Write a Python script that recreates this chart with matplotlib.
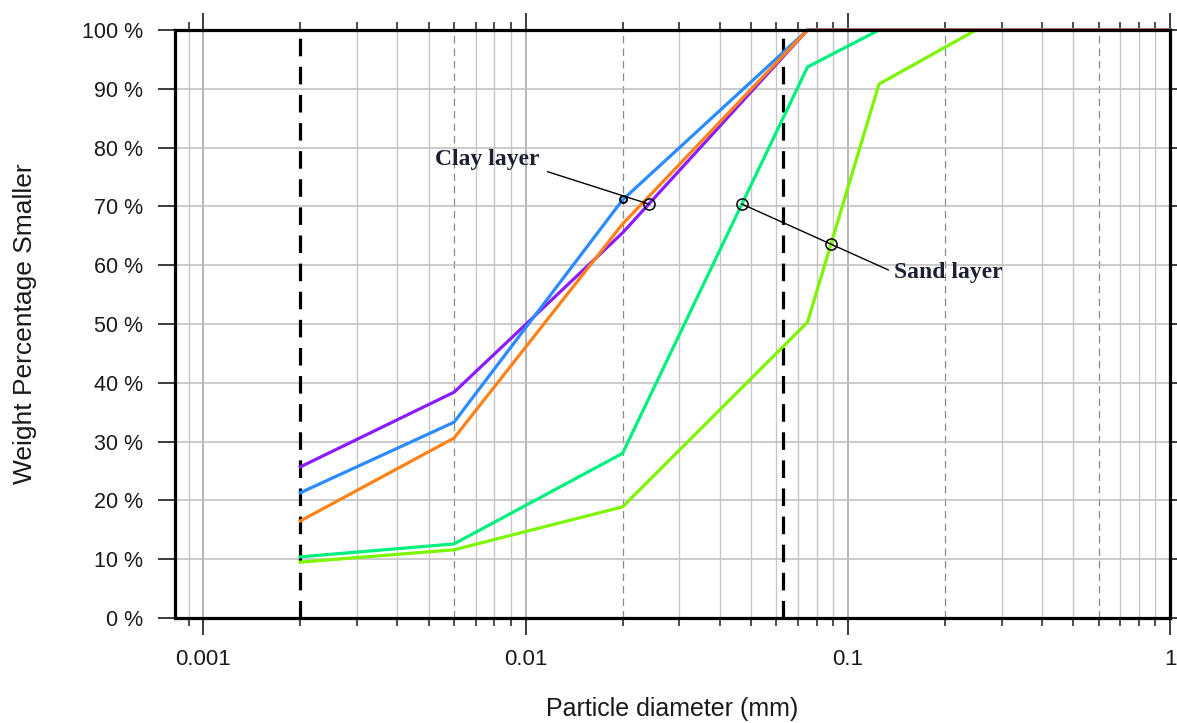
import numpy as np
import matplotlib
matplotlib.use('Agg')
import matplotlib.pyplot as plt
from matplotlib.ticker import LogLocator, NullFormatter, FixedLocator

# sieve / hydrometer diameters (mm)
diam = [0.002, 0.006, 0.02, 0.075, 0.125, 0.25, 1.0]

# weight percentage smaller for each sample
clay_purple = [25.7, 38.4, 65.5, 100, 100, 100, 100]
clay_blue = [21.3, 33.3, 71.1, 100, 100, 100, 100]
clay_orange = [16.5, 30.6, 67.0, 100, 100, 100, 100]
sand_teal = [10.4, 12.6, 28.0, 93.7, 100, 100, 100]
sand_lime = [9.5, 11.6, 18.9, 50.3, 90.8, 100, 100]

x_ticks = [0.001, 0.01, 0.1, 1]
x_ticklabels = ['0.001', '0.01', '0.1', '1']
y_ticks = list(range(0, 101, 10))
y_ticklabels = ['%d %%' % v for v in y_ticks]

# class boundaries (clay / silt / sand) and secondary lines
bounds = [0.002, 0.063]
dashed_grid = [0.006, 0.02, 0.2, 0.6]


def x_at(level, xs, ys):
    """x (log-interpolated) where a rising curve reaches a given level"""
    ys = np.asarray(ys, float)
    n = int(np.argmax(ys >= 100)) + 1
    return 10 ** np.interp(level, ys[:n], np.log10(xs[:n]))


plt.rcParams['font.family'] = ['Liberation Sans', 'DejaVu Sans']

fig = plt.figure(figsize=(11.77, 7.23), dpi=100)
ax = fig.add_axes([175 / 1177, 1 - 618 / 723, 995 / 1177, 588 / 723])
ax.set_xscale('log')
ax.set_xlim(0.000817, 1.0)
ax.set_ylim(0, 100)

# grid
for d in range(-4, 1):
    for m in range(1, 10):
        v = m * 10.0 ** d
        if v < 0.0008 or v > 1.0:
            continue
        if any(abs(v - b) / b < 1e-6 for b in dashed_grid + bounds):
            if any(abs(v - b) / b < 1e-6 for b in dashed_grid):
                ax.axvline(v, color='#8a8a8a', lw=0.9, ls=(0, (6, 4)), zorder=1)
            continue
        if m == 1:
            ax.axvline(v, color='#a0a0a0', lw=1.1, zorder=1)
        else:
            ax.axvline(v, color='#c8c8c8', lw=1.0, zorder=1)
for v in y_ticks[1:-1]:
    ax.axhline(v, color='#bdbdbd', lw=1.1, zorder=1)

for b in bounds:
    ax.vlines(b, 0, 98.8, color='black', lw=2.3, ls=(0, (5.5, 3.3)), zorder=2)

# curves
ax.plot(diam, sand_teal, color='#00f07f', lw=2.3, zorder=3, clip_on=False)
ax.plot(diam, sand_lime, color='#7ef500', lw=2.3, zorder=3, clip_on=False)
ax.plot(diam, clay_purple, color='#8a1cff', lw=2.3, zorder=4, clip_on=False)
ax.plot(diam, clay_blue, color='#2a8cff', lw=2.3, zorder=4, clip_on=False)
ax.plot(diam, clay_orange, color='#ff8218', lw=2.3, zorder=5, clip_on=False)

# annotations
bold_serif = dict(family=['Liberation Serif', 'DejaVu Serif'], fontweight='bold',
                  fontsize=17, color='#1c2030')
ax.text(0.00525, 78.0, 'Clay layer', ha='left', va='center', zorder=6, **bold_serif)
ax.text(0.1394, 58.8, 'Sand layer', ha='left', va='center', zorder=6, **bold_serif)

c1 = (x_at(71.2, diam, clay_blue), 71.2)
c2 = (x_at(70.4, diam, clay_purple), 70.4)
ax.plot([0.01171, c2[0]], [75.9, c2[1]], color='black', lw=1.0, zorder=6)
ax.plot(*c1, marker='o', ms=5, mfc='none', mec='black', mew=1.4, zorder=7)
ax.plot(*c2, marker='o', ms=8, mfc='none', mec='black', mew=1.1, zorder=7)

s1 = (x_at(70.4, diam, sand_teal), 70.4)
s2 = (x_at(63.6, diam, sand_lime), 63.6)
ax.plot([s1[0], 0.1335], [s1[1], 59.2], color='black', lw=1.0, zorder=6)
ax.plot(*s1, marker='o', ms=8, mfc='none', mec='black', mew=1.1, zorder=7)
ax.plot(*s2, marker='o', ms=8, mfc='none', mec='black', mew=1.1, zorder=7)

# axes styling
for s in ax.spines.values():
    s.set_linewidth(2.3)
    s.set_zorder(5)

ax.xaxis.set_major_locator(FixedLocator(x_ticks))
ax.set_xticklabels(x_ticklabels)
ax.xaxis.set_minor_locator(LogLocator(base=10, subs=np.arange(2, 10)))
ax.xaxis.set_minor_formatter(NullFormatter())
ax.set_yticks(y_ticks)
ax.set_yticklabels(y_ticklabels)

ax.tick_params(axis='x', which='major', direction='out', length=12, width=1.2,
               top=True, labelsize=16, pad=10, colors='#1a1a1a')
ax.tick_params(axis='x', which='minor', direction='out', length=6, width=1.1, top=True,
               colors='#1a1a1a')
ax.tick_params(axis='y', which='major', direction='out', length=12, width=1.2,
               right=True, labelsize=15.5, pad=11, colors='#1a1a1a')
ax.tick_params(axis='y', which='minor', left=False, right=False)

ax.set_xlabel('Particle diameter (mm)', fontsize=18, color='#1a1a1a', va='center')
ax.xaxis.set_label_coords(0.5, -0.154)
ax.set_ylabel('Weight Percentage Smaller', fontsize=19, color='#1a1a1a',
              va='center', ha='center')
ax.yaxis.set_label_coords(-0.151, 0.5)

fig.savefig('out.png', dpi=100)
